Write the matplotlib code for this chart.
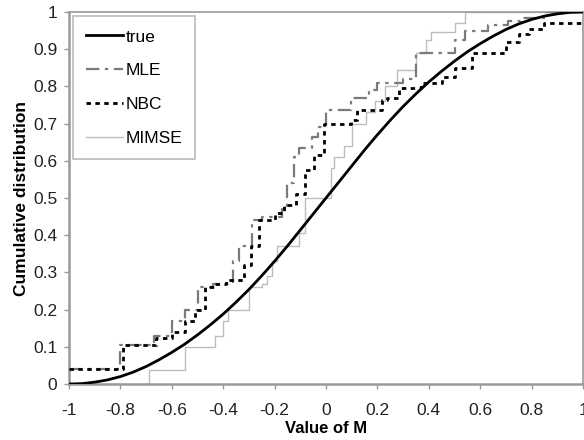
import matplotlib.pyplot as plt
from matplotlib.ticker import FuncFormatter

# true distribution, every 0.05
true_x = [-1.0, -0.95, -0.9, -0.85, -0.8, -0.75, -0.7, -0.65, -0.6, -0.55,
          -0.5, -0.45, -0.4, -0.35, -0.3, -0.25, -0.2, -0.15, -0.1, -0.05,
          0.0, 0.05, 0.1, 0.15, 0.2, 0.25, 0.3, 0.35, 0.4, 0.45,
          0.5, 0.55, 0.6, 0.65, 0.7, 0.75, 0.8, 0.85, 0.9, 0.95, 1.0]
true_y = [0.0, 0.001, 0.005, 0.011, 0.02, 0.032, 0.047, 0.065, 0.085, 0.107,
          0.132, 0.159, 0.188, 0.22, 0.254, 0.291, 0.33, 0.371, 0.414, 0.457,
          0.5, 0.543, 0.586, 0.629, 0.67, 0.709, 0.746, 0.78, 0.812, 0.841,
          0.868, 0.893, 0.915, 0.935, 0.953, 0.968, 0.98, 0.989, 0.995, 0.999, 1.0]

# step estimates
mle_x = [-1, -0.80, -0.67, -0.6, -0.55, -0.50, -0.44, -0.36, -0.337, -0.287,
         -0.25, -0.17, -0.15, -0.124, -0.105, -0.054, -0.03, 0.0, 0.097, 0.167,
         0.2, 0.30, 0.35, 0.5, 0.54, 0.63, 0.71, 0.76, 0.85, 1.0]
mle_y = [0.04, 0.105, 0.13, 0.17, 0.2, 0.26, 0.27, 0.33, 0.37, 0.44,
         0.45, 0.47, 0.54, 0.61, 0.635, 0.665, 0.69, 0.736, 0.77, 0.79,
         0.81, 0.82, 0.89, 0.925, 0.95, 0.965, 0.975, 0.985, 1.0, 1.0]

nbc_x = [-1, -0.79, -0.66, -0.6, -0.55, -0.51, -0.47, -0.43, -0.39, -0.32,
         -0.29, -0.26, -0.2, -0.163, -0.116, -0.08, -0.047, -0.008, 0.097, 0.12,
         0.217, 0.236, 0.283, 0.37, 0.45, 0.50, 0.57, 0.70, 0.75, 0.79,
         0.85, 1.0]
nbc_y = [0.04, 0.105, 0.125, 0.14, 0.17, 0.2, 0.26, 0.27, 0.28, 0.32,
         0.37, 0.44, 0.46, 0.48, 0.51, 0.575, 0.615, 0.70, 0.71, 0.736,
         0.763, 0.77, 0.796, 0.81, 0.825, 0.85, 0.89, 0.92, 0.94, 0.955,
         0.97, 0.97]

mimse_x = [-1, -0.69, -0.55, -0.43, -0.40, -0.38, -0.30, -0.25, -0.23, -0.21,
           -0.19, -0.105, -0.08, 0.02, 0.03, 0.07, 0.10, 0.155, 0.19, 0.23,
           0.275, 0.35, 0.39, 0.41, 0.5, 0.54, 1.0]
mimse_y = [0.0, 0.037, 0.1, 0.13, 0.17, 0.2, 0.26, 0.27, 0.29, 0.33,
           0.37, 0.405, 0.5, 0.58, 0.61, 0.64, 0.7, 0.73, 0.76, 0.8,
           0.845, 0.89, 0.925, 0.945, 0.97, 1.0, 1.0]

xticks = [-1, -0.8, -0.6, -0.4, -0.2, 0, 0.2, 0.4, 0.6, 0.8, 1]
yticks = [0, 0.1, 0.2, 0.3, 0.4, 0.5, 0.6, 0.7, 0.8, 0.9, 1]

plt.rcParams['font.family'] = ['Liberation Sans', 'DejaVu Sans']

fig = plt.figure(figsize=(5.84, 4.4), dpi=100)
ax = fig.add_axes([69 / 584, 1 - 384 / 440, (583 - 69) / 584, (384 - 12) / 440])

ax.plot(true_x, true_y, color='black', lw=2.0, label='true', zorder=5)
ax.plot(mle_x, mle_y, color='#7a7a7a', lw=1.6, drawstyle='steps-post',
        dashes=(6, 2.5, 1.5, 2.5), label='MLE', zorder=3)
ax.plot(nbc_x, nbc_y, color='black', lw=2.0, drawstyle='steps-post',
        dashes=(1.6, 1.6), label='NBC', zorder=4)
ax.plot(mimse_x, mimse_y, color='#bdbdbd', lw=1.0, drawstyle='steps-post',
        label='MIMSE', zorder=2)

ax.set_xlim(-1, 1)
ax.set_ylim(0, 1)
ax.set_xticks(xticks)
ax.set_yticks(yticks)
fmt = FuncFormatter(lambda v, p: f'{v:g}')
ax.xaxis.set_major_formatter(fmt)
ax.yaxis.set_major_formatter(fmt)
ax.tick_params(labelsize=12.5, labelcolor='#222222', color='#999999',
               length=3.5, width=1)
ax.tick_params(axis='x', pad=10)
ax.tick_params(axis='y', pad=5)

for s in ax.spines.values():
    s.set_color('#999999')
    s.set_linewidth(1.2)
ax.spines['left'].set_linewidth(1.8)
ax.spines['bottom'].set_linewidth(1.8)

ax.set_xlabel('Value of M', fontsize=12, fontweight='bold', labelpad=2)
ax.set_ylabel('Cumulative distribution', fontsize=12.5, fontweight='bold', labelpad=3)

leg = ax.legend(loc='upper left', fontsize=12.5, frameon=True, fancybox=False,
                edgecolor='#aaaaaa', handlelength=2.1, labelspacing=1.08,
                borderaxespad=0.25, handletextpad=0.15, borderpad=0.75)
leg.get_frame().set_linewidth(1.2)

fig.savefig('out.png', dpi=100)
